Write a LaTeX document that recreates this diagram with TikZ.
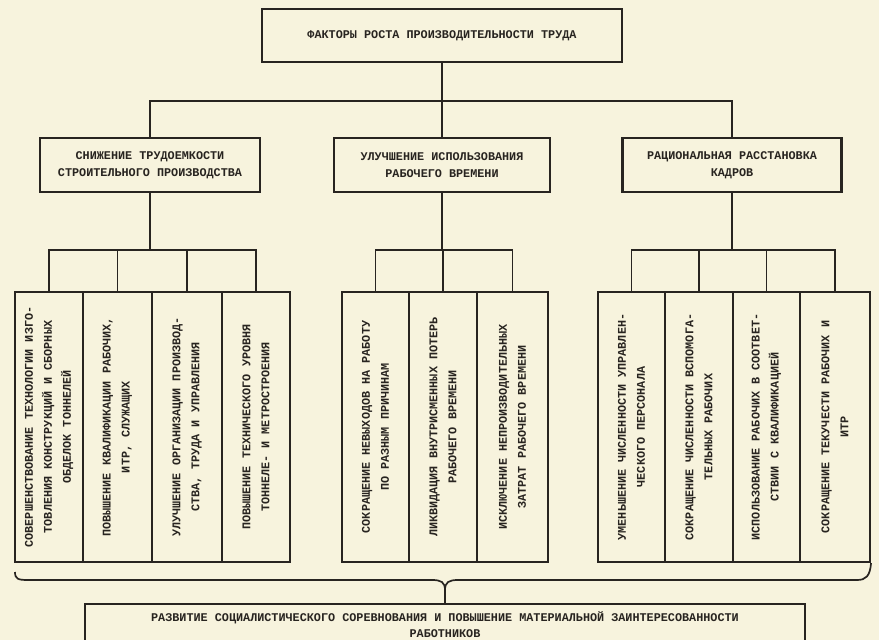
\documentclass[tikz,border=0pt]{standalone}
\usepackage{fontspec}
\newfontfamily\tfont{Liberation Mono}
\definecolor{paper}{RGB}{247,243,221}
\definecolor{ink}{RGB}{40,36,32}
\begin{document}
\begin{tikzpicture}[x=1pt,y=-1pt,
  txt/.style={text=ink, font=\tfont\bfseries\fontsize{11.8}{17}\selectfont},
  box/.style={draw=ink, line width=2.1pt, inner sep=0pt, align=center, txt},
  leafbox/.style={draw=ink, line width=2.1pt, inner sep=0pt, minimum height=270pt},
  leaftext/.style={rotate=90, align=center, inner sep=0pt, txt, font=\tfont\bfseries\fontsize{11.8}{19}\selectfont},
  conn/.style={draw=ink, line width=1.7pt}]
\fill[paper] (0,0) rectangle (879,640);
\clip (0,0) rectangle (879,640);
\newcommand\myleaf[4]{\node[leafbox, minimum width=#3pt] (#1) at (#2,427) {};
  \node[leaftext] (#1t) at (#1.center) {#4};}

% top level
\node[box, minimum width=360pt, minimum height=53pt] (top) at (442,35.5) {ФАКТОРЫ РОСТА ПРОИЗВОДИТЕЛЬНОСТИ ТРУДА};

% second level
\node[box, minimum width=220pt, minimum height=54pt] (fa) at (150,165) {СНИЖЕНИЕ ТРУДОЕМКОСТИ\\СТРОИТЕЛЬНОГО ПРОИЗВОДСТВА};
\node[box, minimum width=216pt, minimum height=54pt] (fb) at (442,165) {УЛУЧШЕНИЕ ИСПОЛЬЗОВАНИЯ\\РАБОЧЕГО ВРЕМЕНИ};
\node[box, minimum width=219pt, minimum height=54pt] (fc) at (732,165) {РАЦИОНАЛЬНАЯ РАССТАНОВКА\\КАДРОВ};

\coordinate (busT) at (442,101);
\draw[conn] (top.south) -- (fb.north);
\draw[conn] (fa.north) -- (fa.north |- busT) -- (fc.north |- busT) -- (fc.north);

% leaves
\myleaf{a1}{49}{68}{СОВЕРШЕНСТВОВАНИЕ ТЕХНОЛОГИИ ИЗГО-\\ТОВЛЕНИЯ КОНСТРУКЦИЙ И СБОРНЫХ\\ОБДЕЛОК ТОННЕЛЕЙ}
\myleaf{a2}{117.5}{69}{ПОВЫШЕНИЕ КВАЛИФИКАЦИИ РАБОЧИХ,\\ИТР, СЛУЖАЩИХ}
\myleaf{a3}{187}{70}{УЛУЧШЕНИЕ ОРГАНИЗАЦИИ ПРОИЗВОД-\\СТВА, ТРУДА И УПРАВЛЕНИЯ}
\myleaf{a4}{256}{68}{ПОВЫШЕНИЕ ТЕХНИЧЕСКОГО УРОВНЯ\\ТОННЕЛЕ- И МЕТРОСТРОЕНИЯ}

\myleaf{b1}{375.5}{67}{СОКРАЩЕНИЕ НЕВЫХОДОВ НА РАБОТУ\\ПО РАЗНЫМ ПРИЧИНАМ}
\myleaf{b2}{443}{68}{ЛИКВИДАЦИЯ ВНУТРИСМЕННЫХ ПОТЕРЬ\\РАБОЧЕГО ВРЕМЕНИ}
\myleaf{b3}{512.5}{71}{ИСКЛЮЧЕНИЕ НЕПРОИЗВОДИТЕЛЬНЫХ\\ЗАТРАТ РАБОЧЕГО ВРЕМЕНИ}

\myleaf{c1}{631.5}{67}{УМЕНЬШЕНИЕ ЧИСЛЕННОСТИ УПРАВЛЕН-\\ЧЕСКОГО ПЕРСОНАЛА}
\myleaf{c2}{699}{68}{СОКРАЩЕНИЕ ЧИСЛЕННОСТИ ВСПОМОГА-\\ТЕЛЬНЫХ РАБОЧИХ}
\myleaf{c3}{766.5}{67}{ИСПОЛЬЗОВАНИЕ РАБОЧИХ В СООТВЕТ-\\СТВИИ С КВАЛИФИКАЦИЕЙ}
\myleaf{c4}{835}{70}{СОКРАЩЕНИЕ ТЕКУЧЕСТИ РАБОЧИХ И\\ИТР}

% group buses
\coordinate (busA) at (0,250);
\draw[conn] (fa.south) -- (fa.south |- busA);
\draw[conn] (a1.north) -- (a1.north |- busA) -- (a4.north |- busA) -- (a4.north);
\draw[conn] (a2.north) -- (a2.north |- busA);
\draw[conn] (a3.north) -- (a3.north |- busA);

\draw[conn] (fb.south) -- (fb.south |- busA);
\draw[conn] (b1.north) -- (b1.north |- busA) -- (b3.north |- busA) -- (b3.north);
\draw[conn] (b2.north) -- (b2.north |- busA);

\draw[conn] (fc.south) -- (fc.south |- busA);
\draw[conn] (c1.north) -- (c1.north |- busA) -- (c4.north |- busA) -- (c4.north);
\draw[conn] (c2.north) -- (c2.north |- busA);
\draw[conn] (c3.north) -- (c3.north |- busA);

% bottom box
\node[box, minimum width=720pt, minimum height=42pt, font=\tfont\bfseries\fontsize{11.8}{16}\selectfont] (bot) at (445,625) {РАЗВИТИЕ СОЦИАЛИСТИЧЕСКОГО СОРЕВНОВАНИЯ И ПОВЫШЕНИЕ МАТЕРИАЛЬНОЙ ЗАИНТЕРЕСОВАННОСТИ\\РАБОТНИКОВ};

% brace
\coordinate (brL) at (15,572);
\coordinate (brT) at (445,590);
\draw[conn] (brL) .. controls (15,579) and (18,580) .. (28,580) -- (432,580) .. controls (441,580) and (445,582) .. (brT) -- (bot.north);
\draw[conn] (brT) .. controls (445,582) and (449,580) .. (458,580) -- (857,580) .. controls (866,580) and (870,576) .. (c4.south east);
\end{tikzpicture}
\end{document}
